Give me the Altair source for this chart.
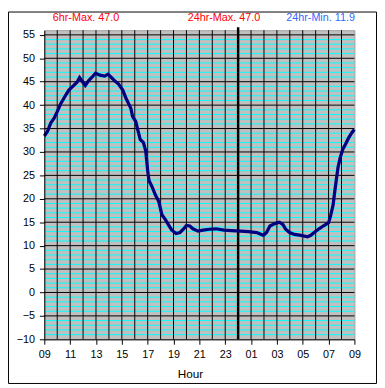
import altair as alt
import pandas as pd

# Temperature trace (hour of day continuing past midnight as 24+)
hours = [9.0, 9.25, 9.5, 9.76, 10.0, 10.27, 10.65, 10.9, 11.28, 11.53, 11.73, 11.9,
         12.17, 12.42, 12.67, 12.97, 13.3, 13.68, 13.93, 14.19, 14.44, 14.75, 15.07,
         15.33, 15.58, 15.7, 15.83, 16.08, 16.2, 16.42, 16.67, 16.85, 17.0, 17.1,
         17.35, 17.6, 17.86, 18.1, 18.36, 18.6, 18.87, 19.2, 19.5, 19.76, 20.0, 20.26,
         20.5, 20.9, 21.28, 21.78, 22.3, 22.9, 23.5, 24.19, 24.8, 25.44, 25.95, 26.2,
         26.46, 26.84, 27.2, 27.47, 27.68, 27.98, 28.36, 28.87, 29.37, 29.63, 29.88,
         30.26, 30.64, 31.0, 31.15, 31.35, 31.46, 31.61, 31.73, 31.9, 32.1, 32.3,
         32.55, 32.8, 32.99]
temps = [33.4, 34.4, 36.2, 37.2, 38.6, 40.3, 42.1, 43.2, 44.2, 44.9, 45.9, 45.2,
         44.2, 45.2, 45.9, 46.8, 46.4, 46.2, 46.6, 45.9, 45.2, 44.5, 43.2,
         41.4, 40.0, 39.3, 37.6, 36.5, 35.1, 32.7, 32.0, 30.2, 26.0, 23.9,
         22.5, 20.8, 19.4, 16.6, 15.6, 14.5, 13.3, 12.6, 12.8, 13.5, 14.3, 14.2,
         13.6, 13.1, 13.3, 13.5, 13.6, 13.3, 13.2, 13.1, 13.0, 12.8, 12.2, 12.8,
         14.2, 14.7, 15.0, 14.5, 13.5, 12.8, 12.4, 12.2, 11.9, 12.2, 12.8,
         13.6, 14.3, 14.9, 16.3, 18.7, 21.2, 24.3, 26.7, 28.8, 30.6, 31.6,
         33.0, 34.1, 34.8]

x_ticks = [9, 11, 13, 15, 17, 19, 21, 23, 25, 27, 29, 31, 33]
y_ticks = [-10, -5, 0, 5, 10, 15, 20, 25, 30, 35, 40, 45, 50, 55]
minor_y = [v for v in range(-9, 55) if v % 5 != 0]
major_y = [-5, 0, 5, 10, 15, 20, 25, 30, 35, 40, 45, 50, 55]
hour_lines = [h for h in range(10, 33) if h != 24]
midnight = [24]

header_texts = ["6hr-Max. 47.0", "24hr-Max. 47.0", "24hr-Min. 11.9"]
x_title = "Hour"

W, H = 316, 315
FONT = "Liberation Sans"

xscale = alt.Scale(domain=[9, 33], nice=False, zero=False)
yscale = alt.Scale(domain=[-10, 56], nice=False, zero=False)
xaxis = alt.Axis(values=x_ticks, title=None, grid=False, tickSize=5, tickColor="black",
                 domainColor="black", labelColor="black", labelFont=FONT, labelFontSize=11,
                 labelPadding=5, labelFlush=False, labelOverlap=False, zindex=1,
                 labelExpr="(datum.value % 24 < 10 ? '0' : '') + (datum.value % 24)")
yaxis = alt.Axis(values=y_ticks, title=None, grid=False, tickSize=5, tickColor="black",
                 domainColor="black", labelColor="black", labelFont=FONT, labelFontSize=11,
                 labelPadding=5, labelFlush=False, labelOverlap=False, zindex=1)


def X(field):
    return alt.X(f"{field}:Q", scale=xscale, axis=xaxis)


def Y(field):
    return alt.Y(f"{field}:Q", scale=yscale, axis=yaxis)


line_df = pd.DataFrame({"h": hours, "v": temps})

minor = alt.Chart(pd.DataFrame({"v": minor_y})).mark_rule(color="#00ffff", strokeWidth=1).encode(y=Y("v"))
major = alt.Chart(pd.DataFrame({"v": major_y})).mark_rule(color="black", strokeWidth=1).encode(y=Y("v"))
vlines = alt.Chart(pd.DataFrame({"h": hour_lines})).mark_rule(color="black", strokeWidth=1).encode(x=X("h"))
mid = alt.Chart(pd.DataFrame({"h": midnight})).mark_rule(color="black", strokeWidth=2.5).encode(
    x=X("h"), y=alt.value(-3), y2=alt.value(H))
line = alt.Chart(line_df).mark_line(color="#000080", strokeWidth=3.3).encode(x=X("h"), y=Y("v"))

one = alt.Data(values=[{}])
t1 = alt.Chart(one).mark_text(color="#ff0000", font=FONT, fontSize=11, baseline="middle").encode(
    x=alt.value(42.5), y=alt.value(-12.5), text=alt.value(header_texts[0]))
t2 = alt.Chart(one).mark_text(color="#ff0000", font=FONT, fontSize=11, baseline="middle").encode(
    x=alt.value(183), y=alt.value(-12.5), text=alt.value(header_texts[1]))
t3 = alt.Chart(one).mark_text(color="#3366ff", font=FONT, fontSize=11, baseline="middle").encode(
    x=alt.value(281.5), y=alt.value(-12.5), text=alt.value(header_texts[2]))
tt = alt.Chart(one).mark_text(color="black", font=FONT, fontSize=12, baseline="middle").encode(
    x=alt.value(149), y=alt.value(H + 35), text=alt.value(x_title))
border = alt.Chart(one).mark_rect(filled=False, stroke="black", strokeWidth=1).encode(
    x=alt.value(-36.5), x2=alt.value(W + 22.5), y=alt.value(-18.5), y2=alt.value(H + 45))

chart = alt.layer(minor, major, vlines, mid, line, t1, t2, t3, tt, border).properties(
    width=W, height=H,
    padding={"left": 37, "top": 19, "right": 23, "bottom": 46},
    autosize="none",
    background="white",
).configure_view(fill="#c0c0c0", stroke="#a0a0a0")

chart.save("out.html", embed_options={"renderer": "svg", "actions": False})
